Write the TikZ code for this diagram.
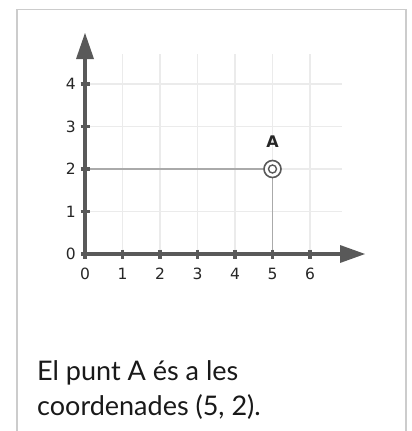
\documentclass[tikz,border=0pt]{standalone}
\usepackage{fontspec}
\setmainfont{Lato}
\newfontfamily\axisfont{DejaVu Sans}
\definecolor{axisgray}{HTML}{595959}
\definecolor{gridgray}{HTML}{EBEBEB}
\definecolor{guidegray}{HTML}{AAAAAA}
\definecolor{framegray}{HTML}{CCCCCC}
\begin{document}
\begin{tikzpicture}[x=1pt,y=-1pt,
  gridline/.style={draw=gridgray,line width=1.3pt},
  axisline/.style={draw=axisgray,line width=4pt},
  tickmark/.style={draw=axisgray,line width=3.5pt},
  guide/.style={draw=guidegray,line width=1.5pt},
  numlabel/.style={font=\axisfont\fontsize{15.5}{17}\selectfont,text=black!85,inner sep=0pt},
  ptlabel/.style={font=\axisfont\bfseries\fontsize{16}{18}\selectfont,text=black!85,inner sep=0pt},
  bodytext/.style={font=\fontsize{27}{35}\selectfont,text=black!90,inner sep=0pt,anchor=base west}]
\useasboundingbox (0,0) rectangle (412,431);
\fill[white] (0,0) rectangle (412,431);
% frame (open at bottom)
\draw[framegray,line width=1.5pt] (17,431) -- (17,9.5) -- (406,9.5) -- (406,431);
% grid
\foreach \i in {1,...,6} {
  \draw[gridline] ({85+37.5*\i},54) -- ({85+37.5*\i},254);
}
\foreach \j in {1,...,4} {
  \draw[gridline] (85,{254-42.5*\j}) -- (342,{254-42.5*\j});
}
% named points
\coordinate (O) at (85,254);
\coordinate (Xend) at (342,254);
\coordinate (Yend) at (85,58);
\coordinate (Py) at (85,169);
\coordinate (Px) at (272.5,254);
% guide lines
\node[circle,minimum size=18pt,inner sep=0pt] (A) at (272.5,169) {};
\draw[guide] (Py) -- (A.west);
\draw[guide] (A.south) -- (Px);
% axes
\draw[axisline] (83,254) -- (Xend);
\draw[axisline] (85,256) -- (Yend);
\fill[axisgray] (340,245) -- (365,254) -- (340,263) -- cycle;
\fill[axisgray] (76,59) -- (85,33) -- (94,59) -- cycle;
% ticks
\foreach \i in {1,...,6} {
  \draw[tickmark] ({85+37.5*\i},249.5) -- ({85+37.5*\i},258.5);
}
\draw[tickmark] (85,250) -- (85,259);
\foreach \j in {1,...,4} {
  \draw[tickmark] (80.5,{254-42.5*\j}) -- (89.5,{254-42.5*\j});
}
\draw[tickmark] (81,254) -- (89,254);
% labels
\foreach \i in {0,...,6} {
  \node[numlabel] (xl\i) at ({85+37.5*\i},274) {\i};
}
\foreach \j in {0,...,4} {
  \node[numlabel,anchor=east] (yl\j) at (76,{254-42.5*\j}) {\j};
}
% point A
\draw[axisgray,fill=white,line width=1.6pt] (A.center) circle (8.5);
\draw[axisgray,line width=1.4pt] (A.center) circle (4);
\node[ptlabel] (Alab) at (272.5,142) {A};
% text
\node[bodytext] (t1) at (37,380) {El punt A és a les};
\node[bodytext] (t2) at (37,415) {coordenades (5, 2).};
\end{tikzpicture}
\end{document}
